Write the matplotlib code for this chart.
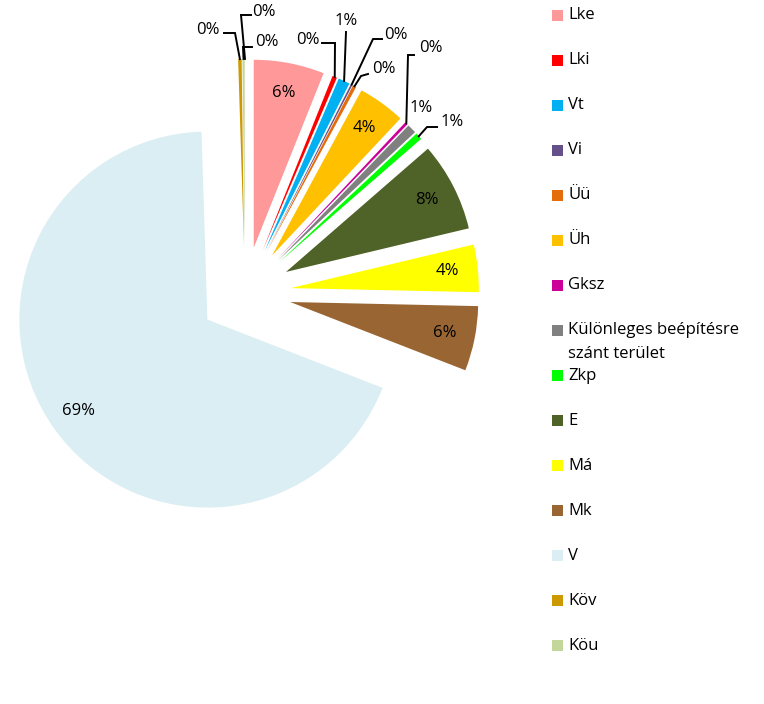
import numpy as np
import matplotlib
matplotlib.use('Agg')
import matplotlib.pyplot as plt
from matplotlib.patches import Rectangle

plt.rcParams['font.family'] = ['Open Sans', 'DejaVu Sans']

# Land-use categories and their shares (%)
categories = ['Lke', 'Lki', 'Vt', 'Vi', 'Üü', 'Üh', 'Gksz',
              'Különleges beépítésre\nszánt terület', 'Zkp', 'E', 'Má', 'Mk',
              'V', 'Köv', 'Köu', '']
shares = [6.1, 0.4, 1.0, 0.15, 0.3, 4.1, 0.25, 0.8, 0.6, 7.7, 4.1, 5.6,
          69.0, 0.3, 0.2, 0.0]
colors = ['#FF9999', '#FF0000', '#00B0F0', '#65508A', '#E46C0A', '#FFC000',
          '#CC0099', '#808080', '#00FF00', '#4F6228', '#FFFF00', '#996633',
          '#DAEEF3', '#CC9900', '#C4D79B', '#FFFFFF']

# label placement (pixels) for the thin slices: text centre, leader elbow
small_labels = {
    1: ((308, 40), [(322, 43), (335, 43)]),
    2: ((346, 21), [(346, 32)]),
    3: ((396, 35), [(382, 39), (373, 39)]),
    4: ((384, 69), [(368, 74), (361, 76)]),
    6: ((431, 48), [(414, 55), (408, 55)]),
    7: ((421, 108), None),
    8: ((452, 122), [(437, 127), (427, 127)]),
    13: ((208, 30), [(224, 33), (235, 33)]),
    14: ((267, 42), [(252, 47), (243, 47)]),
    15: ((264, 12), [(251, 15), (241, 15)]),
}

W, H = 764, 704
CX, CY, R = 245, 293, 188
FS = 12


def px(x, y):
    return (x - CX) / R, (CY - y) / R


fig = plt.figure(figsize=(W / 100, H / 100), dpi=100)
ax = fig.add_axes([0, 0, 1, 1])

wedges, _ = ax.pie(shares, colors=colors, startangle=90, counterclock=False,
                   explode=[0.245] * len(shares), radius=1,
                   wedgeprops=dict(linewidth=0), frame=False)

total = sum(shares)
for i, w in enumerate(wedges):
    pct = '%.0f%%' % (shares[i] / total * 100)
    mid = np.deg2rad((w.theta1 + w.theta2) / 2)
    cx, cy = w.center
    if i in small_labels:
        (tx, ty), elbow = small_labels[i]
        ax.text(*px(tx, ty), pct, ha='center', va='center', fontsize=FS)
        if elbow:
            pts = [px(*p) for p in elbow]
            pts.append((cx + w.r * np.cos(mid), cy + w.r * np.sin(mid)))
            xs, ys = zip(*pts)
            ax.plot(xs, ys, color='black', lw=1.4, solid_joinstyle='miter')
    else:
        ax.text(cx + 0.84 * w.r * np.cos(mid), cy + 0.84 * w.r * np.sin(mid),
                pct, ha='center', va='center', fontsize=FS)

ax.set_xlim(-CX / R, (W - CX) / R)
ax.set_ylim(-(H - CY) / R, CY / R)
ax.set_aspect('equal')
ax.axis('off')

# legend drawn by hand, one entry every 45 px
for i, name in enumerate(categories[:15]):
    y = 15 + i * 45.07
    fig.add_artist(Rectangle((552 / W, 1 - (y + 5.5) / H), 11 / W, 11 / H,
                             transform=fig.transFigure, color=colors[i], lw=0))
    for j, line in enumerate(name.split('\n')):
        fig.text(568 / W, 1 - (y + j * 24) / H, line, ha='left', va='center',
                 fontsize=FS)

fig.savefig('out.png', dpi=100)
